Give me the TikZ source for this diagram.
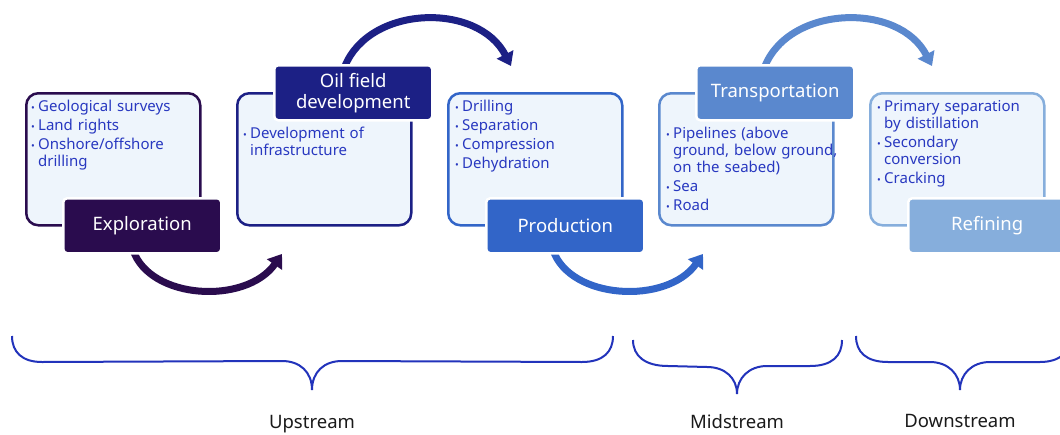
\documentclass[tikz,border=0pt]{standalone}
\usepackage{fontspec}
\setmainfont{Noto Sans}
\usetikzlibrary{arrows.meta}
\definecolor{cA}{HTML}{2A0C4E}
\definecolor{cB}{HTML}{1C2085}
\definecolor{cC}{HTML}{3265C8}
\definecolor{cD}{HTML}{5A88CE}
\definecolor{cE}{HTML}{86AEDC}
\definecolor{pfill}{HTML}{EEF5FC}
\definecolor{txt}{HTML}{2838C0}
\definecolor{brc}{HTML}{2233BB}
\definecolor{dark}{HTML}{1A1A1A}
\newcommand\bu{\makebox[7pt][l]{\fontsize{10}{10}\selectfont •}}
\newcommand\ind{\hspace*{7pt}}
\begin{document}
\begin{tikzpicture}[x=1pt,y=-1pt,
  panel/.style={draw=#1, line width=2.5pt, fill=pfill, rounded corners=12pt,
    minimum width=174pt, minimum height=132pt, anchor=north west, inner sep=0pt},
  lab/.style={draw=white, line width=2.5pt, fill=#1, rounded corners=4pt, text=white,
    minimum width=158pt, minimum height=55pt, anchor=north west, inner sep=0pt,
    font=\fontsize{18.5}{21}\selectfont, align=center},
  items/.style={anchor=base west, text width=176pt, align=left, inner sep=0pt,
    font=\fontsize{15}{17}\selectfont, text=txt},
  flow/.style={draw=#1, line width=7pt, -{Triangle[length=13pt,width=18pt]}},
  brace/.style={draw=brc, line width=2pt},
  stage/.style={anchor=base, text=dark, font=\fontsize{18.5}{21}\selectfont}]
\useasboundingbox (0,0) rectangle (1060,434);

% panels
\node[panel=cA] (p1) at (25,92) {};
\node[panel=cB] (p2) at (236,92) {};
\node[panel=cC] (p3) at (447,92) {};
\node[panel=cD] (p4) at (658,92) {};
\node[panel=cE] (p5) at (869,92) {};

% panel texts
\node[items] (t1) at (31,111) {\bu Geological surveys\\[2pt]\bu Land rights\\[2pt]\bu Onshore/offshore\\\ind drilling};
\node[items] (t2) at (243,138) {\bu Development of\\\ind infrastructure};
\node[items] (t3) at (455,111) {\bu Drilling\\[2pt]\bu Separation\\[2pt]\bu Compression\\[2pt]\bu Dehydration};
\node[items] (t4) at (666,138) {\bu Pipelines (above\\\ind ground, below ground,\\\ind on the seabed)\\[2pt]\bu Sea\\[2pt]\bu Road};
\node[items] (t5) at (877,111) {\bu Primary separation\\\ind by distillation\\[2pt]\bu Secondary\\\ind conversion\\[2pt]\bu Cracking};

% anchor coordinates for the curved arrows
\coordinate (s1) at (133,250); \coordinate (e1) at (282,254);
\coordinate (s2) at (345,66);  \coordinate (e2) at (511,66);
\coordinate (s3) at (553,250); \coordinate (e3) at (703,254);
\coordinate (s4) at (765,66);  \coordinate (e4) at (932,66);

\draw[flow=cA] (s1) .. controls (150,300) and (246,305) .. (e1);
\draw[flow=cB] (s2) .. controls (370,5) and (478,2) .. (e2);
\draw[flow=cC] (s3) .. controls (570,300) and (667,305) .. (e3);
\draw[flow=cD] (s4) .. controls (790,5) and (899,2) .. (e4);

% labels
\node[lab=cA] (l1) at (62,197) {Exploration};
\node[lab=cB] (l2) at (273,64) {Oil field\\development};
\node[lab=cC] (l3) at (485,197) {Production};
\node[lab=cD] (l4) at (695,64) {Transportation};
\node[lab=cE] (l5) at (907,197) {Refining};

% braces
\coordinate (u0) at (12,336); \coordinate (u1) at (312,390); \coordinate (u2) at (613,336);
\coordinate (m0) at (633,340); \coordinate (m1) at (737,394); \coordinate (m2) at (842,340);
\coordinate (d0) at (856,336); \coordinate (d1) at (960,390); \coordinate (d2) at (1074,336);
\draw[brace] (u0) .. controls (12,352) and (22,362) .. (42,362) -- (282,361)
  .. controls (300,361) and (312,372) .. (u1) .. controls (312,372) and (324,361) .. (342,361)
  -- (582,362) .. controls (603,362) and (613,352) .. (u2);
\draw[brace] (m0) .. controls (633,356) and (645,366) .. (668,366) -- (707,367)
  .. controls (725,367) and (737,378) .. (m1) .. controls (737,378) and (749,366) .. (767,366)
  -- (810,366) .. controls (832,366) and (842,356) .. (m2);
\draw[brace] (d0) .. controls (856,352) and (866,362) .. (888,362) -- (930,362)
  .. controls (948,362) and (960,374) .. (d1) .. controls (960,374) and (972,362) .. (990,362)
  -- (1040,362) .. controls (1060,362) and (1070,352) .. (d2);

% stage names
\node[stage] (n1) at (u1 |- 0,428) {Upstream};
\node[stage] (n2) at (m1 |- 0,428) {Midstream};
\node[stage] (n3) at (d1 |- 0,427) {Downstream};
\end{tikzpicture}
\end{document}
